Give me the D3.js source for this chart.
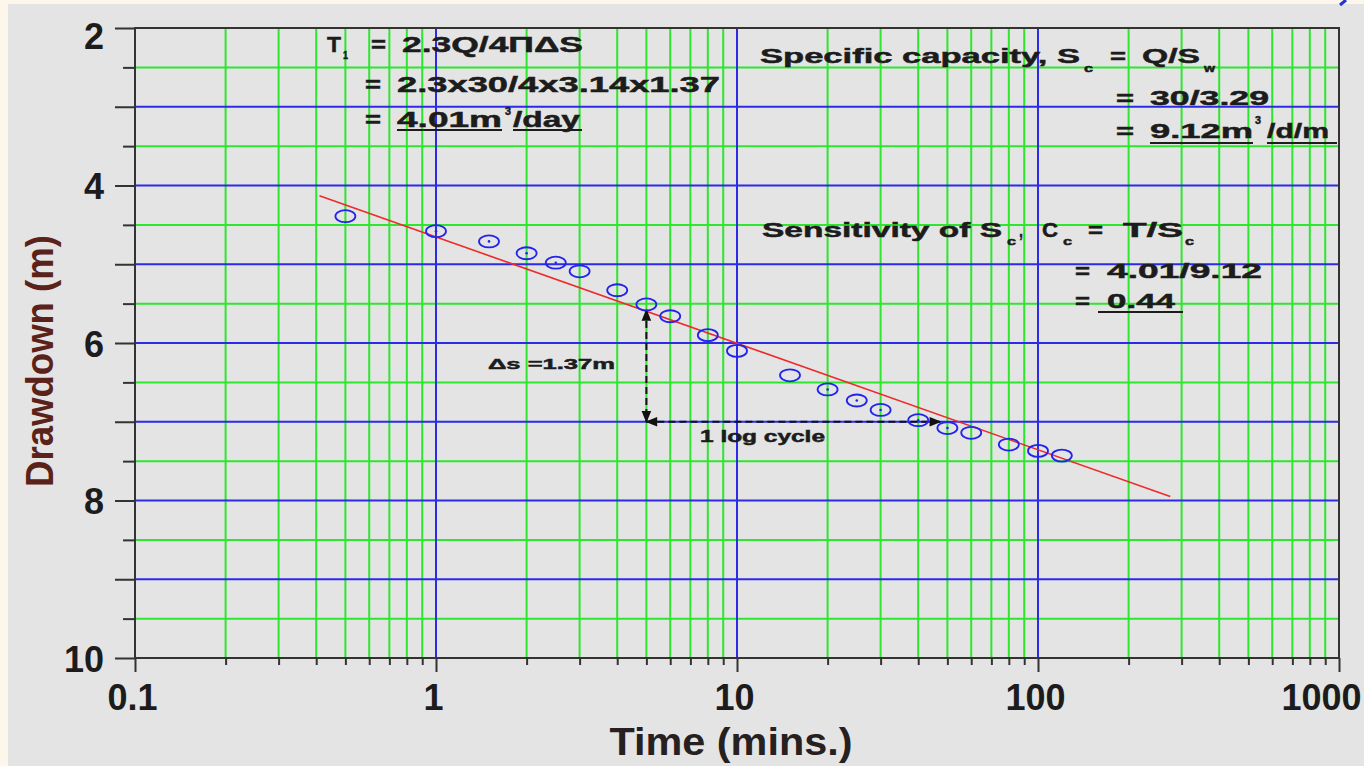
<!DOCTYPE html>
<html><head><meta charset="utf-8">
<script src="https://cdn.jsdelivr.net/npm/d3@7"></script>
<style>
html,body{margin:0;padding:0;background:#fdf6ea;}
svg{display:block;}
text{font-family:"Liberation Sans",Arial,sans-serif;font-weight:bold;}
</style></head><body>
<svg id="c" width="1364" height="766"></svg>
<script>
// ---- data ----
const times    = [0.5, 1, 1.5, 2, 2.5, 3, 4, 5, 6, 8, 10, 15, 20, 25, 30, 40, 50, 60, 80, 100, 120];
const drawdown = [4.39, 4.58, 4.71, 4.86, 4.98, 5.09, 5.33, 5.51, 5.66, 5.90, 6.10, 6.41, 6.59, 6.73, 6.85, 6.98, 7.08, 7.14, 7.29, 7.37, 7.43];
const centreDot = [false, true, true, true, true, false, false, false, false, false, false, false, true, true, true, true, true, false, false, false, false];
const fitTimes = [0.41, 275];
const fitDrawdown = [4.13, 7.95];
const arrowTimes = [5, 50];
const arrowDrawdown = [5.58, 7.0];
const xMajor = [0.1, 1, 10, 100, 1000];
const xTickLabels = ["0.1", "1", "10", "100", "1000"];
const yMajor = [2, 3, 4, 5, 6, 7, 8, 9, 10];
const yTickLabels = ["2", "", "4", "", "6", "", "8", "", "10"];
const yMinor = [2.5, 3.5, 4.5, 5.5, 6.5, 7.5, 8.5, 9.5];
const xMinor = [0.2,0.3,0.4,0.5,0.6,0.7,0.8,0.9, 2,3,4,5,6,7,8,9, 20,30,40,50,60,70,80,90, 200,300,400,500,600,700,800,900];
const xBlue = [1, 10, 100];
const yBlue = [3, 4, 5, 6, 7, 8, 9];

// ---- layout ----
const L = {left:135, right:1339, top:28, bottom:658};
const GREEN = "#2ee62e", BLUE = "#2b2be8", RED = "#ee2a2a", PT = "#2323ee", INK = "#1c1c1c";

const svg = d3.select("#c");
svg.append("rect").attr("x",8).attr("y",4).attr("width",1356).attr("height",762).attr("fill","#e4e4e4");
svg.append("path").attr("d","M1346,0 L1340,5").attr("stroke","#2233dd").attr("stroke-width",3);

const x = d3.scaleLog().domain([0.1,1000]).range([L.left,L.right]);
const y = d3.scaleLinear().domain([2,10]).range([L.top,L.bottom]);

const grid = svg.append("g");
grid.selectAll(".gv").data(xMinor).join("line")
  .attr("x1",d=>x(d)).attr("x2",d=>x(d)).attr("y1",L.top).attr("y2",L.bottom)
  .attr("stroke",GREEN).attr("stroke-width",2);
grid.selectAll(".gh").data(yMinor).join("line").attr("class","gh")
  .attr("y1",d=>y(d)).attr("y2",d=>y(d)).attr("x1",L.left).attr("x2",L.right)
  .attr("stroke",GREEN).attr("stroke-width",2);
grid.selectAll(".bv").data(xBlue).join("line").attr("class","bv")
  .attr("x1",d=>x(d)).attr("x2",d=>x(d)).attr("y1",L.top).attr("y2",L.bottom)
  .attr("stroke",BLUE).attr("stroke-width",2);
grid.selectAll(".bh").data(yBlue).join("line").attr("class","bh")
  .attr("y1",d=>y(d)).attr("y2",d=>y(d)).attr("x1",L.left).attr("x2",L.right)
  .attr("stroke",BLUE).attr("stroke-width",2);

// axes
const axStyle = g => { g.select(".domain").remove(); g.selectAll("line").attr("stroke","#333").attr("stroke-width",2); };
svg.append("g").attr("transform",`translate(${L.left},0)`)
  .call(d3.axisLeft(y).tickValues(yMinor).tickSize(12).tickFormat(""))
  .call(axStyle);
const yAx = svg.append("g").attr("transform",`translate(${L.left},0)`)
  .call(d3.axisLeft(y).tickValues(yMajor).tickSize(20).tickPadding(11).tickFormat((d,i)=>yTickLabels[i]))
  .call(axStyle);
yAx.selectAll("text").attr("font-size",36).attr("fill",INK).attr("dy",null)
  .attr("y",d=> d===2 ? 20 : 13);
svg.append("g").attr("transform",`translate(0,${L.bottom})`)
  .call(d3.axisBottom(x).tickValues(xMinor).tickSize(7).tickFormat(""))
  .call(axStyle);
const xAx = svg.append("g").attr("transform",`translate(0,${L.bottom})`)
  .call(d3.axisBottom(x).tickValues(xMajor).tickSize(14).tickFormat((d,i)=>xTickLabels[i]))
  .call(axStyle);
xAx.selectAll("text").attr("font-size",36).attr("fill",INK).attr("dy",null).attr("y",52)
  .attr("x",(d,i)=> i===4 ? 22 : -3)
  .attr("text-anchor",(d,i)=> i===4 ? "end" : "middle");

// frame
svg.append("rect").attr("x",L.left).attr("y",L.top).attr("width",L.right-L.left).attr("height",L.bottom-L.top)
  .attr("fill","none").attr("stroke","#333").attr("stroke-width",2);

// axis titles
svg.append("text").attr("transform","translate(53,361) rotate(-90)").attr("text-anchor","middle")
  .attr("font-size",38).attr("fill","#5a2218").attr("textLength",252).attr("lengthAdjust","spacingAndGlyphs")
  .text("Drawdown (m)");
svg.append("text").attr("x",731).attr("y",755).attr("text-anchor","middle")
  .attr("font-size",38).attr("fill","#262020").attr("textLength",243).attr("lengthAdjust","spacingAndGlyphs")
  .text("Time (mins.)");

// fit line
svg.append("line").attr("x1",x(fitTimes[0])).attr("y1",y(fitDrawdown[0]))
  .attr("x2",x(fitTimes[1])).attr("y2",y(fitDrawdown[1]))
  .attr("stroke",RED).attr("stroke-width",1.6);

// arrows
const defs = svg.append("defs");
defs.append("marker").attr("id","ah").attr("viewBox","0 0 10 10").attr("refX",9).attr("refY",5)
  .attr("markerWidth",7).attr("markerHeight",6).attr("orient","auto-start-reverse")
  .append("path").attr("d","M0,1 L10,5 L0,9 Z").attr("fill","#111");
svg.append("line").attr("x1",x(arrowTimes[0])).attr("x2",x(arrowTimes[0]))
  .attr("y1",y(arrowDrawdown[0])).attr("y2",y(arrowDrawdown[1]))
  .attr("stroke","#111").attr("stroke-width",2).attr("stroke-dasharray","7,4")
  .attr("marker-start","url(#ah)").attr("marker-end","url(#ah)");
svg.append("line").attr("x1",x(arrowTimes[0])).attr("x2",x(arrowTimes[1])-7)
  .attr("y1",y(arrowDrawdown[1])).attr("y2",y(arrowDrawdown[1]))
  .attr("stroke","#111").attr("stroke-width",2).attr("stroke-dasharray","7,4")
  .attr("marker-start","url(#ah)").attr("marker-end","url(#ah)");

// points
const pts = svg.append("g");
pts.selectAll("ellipse").data(times).join("ellipse")
  .attr("cx",d=>x(d)).attr("cy",(d,i)=>y(drawdown[i])).attr("rx",10).attr("ry",6)
  .attr("fill","none").attr("stroke",PT).attr("stroke-width",1.8);
pts.selectAll("circle").data(times.filter((d,i)=>centreDot[i])).join("circle")
  .attr("cx",d=>x(d)).attr("cy",d=>y(drawdown[times.indexOf(d)])).attr("r",1.3).attr("fill",PT);

// annotations: [text, x, baseline, width, size]
const notes = [
  ["T",327,52,14,22],["1",343,59,5,11],["=",371,52,15,22],["2.3Q/4ΠΔS",402,52,181,22],
  ["=",365,92,16,22],["2.3x30/4x3.14x1.37",397,92,323,22],
  ["=",365,127,16,22],["4.01m",397,127,105,22],["3",505,115,6,11],["/day",513,127,67,22],
  ["Specific capacity, S",760,63,320,21],["c",1084,72,9,11],["=",1110,63,16,21],["Q/S",1142,63,58,21],["w",1204,72,11,11],
  ["=",1116,105,18,21],["30/3.29",1150,105,119,21],
  ["=",1116,138,18,21],["9.12m",1150,138,103,21],["3",1255,124,6,11],["/d/m",1267,138,62,21],
  ["Sensitivity of S",762,237,240,21],["c",1007,245,9,11],[",",1019,237,4,21],["C",1042,237,16,21],["c",1063,245,9,11],
  ["=",1088,237,15,21],["T/S",1123,237,60,21],["c",1185,245,9,11],
  ["=",1075,278,15,21],["4.01/9.12",1107,278,155,21],
  ["=",1075,308,15,21],["0.44",1107,308,68,21],
  ["Δs =1.37m",488,369,127,15],["1 log cycle",700,442,125,16]
];
svg.append("g").selectAll("text").data(notes).join("text")
  .attr("x",d=>d[1]).attr("y",d=>d[2]).attr("font-size",d=>d[4]).attr("fill",INK)
  .attr("stroke",INK).attr("stroke-width",0.5)
  .attr("textLength",d=>d[3]).attr("lengthAdjust","spacingAndGlyphs").text(d=>d[0]);
const unders = [[397,502,130],[513,582,130],[1150,1253,143],[1267,1337,143],[1098,1183,312]];
svg.append("g").selectAll("line").data(unders).join("line")
  .attr("x1",d=>d[0]).attr("x2",d=>d[1]).attr("y1",d=>d[2]).attr("y2",d=>d[2])
  .attr("stroke",INK).attr("stroke-width",2);
</script></body></html>
